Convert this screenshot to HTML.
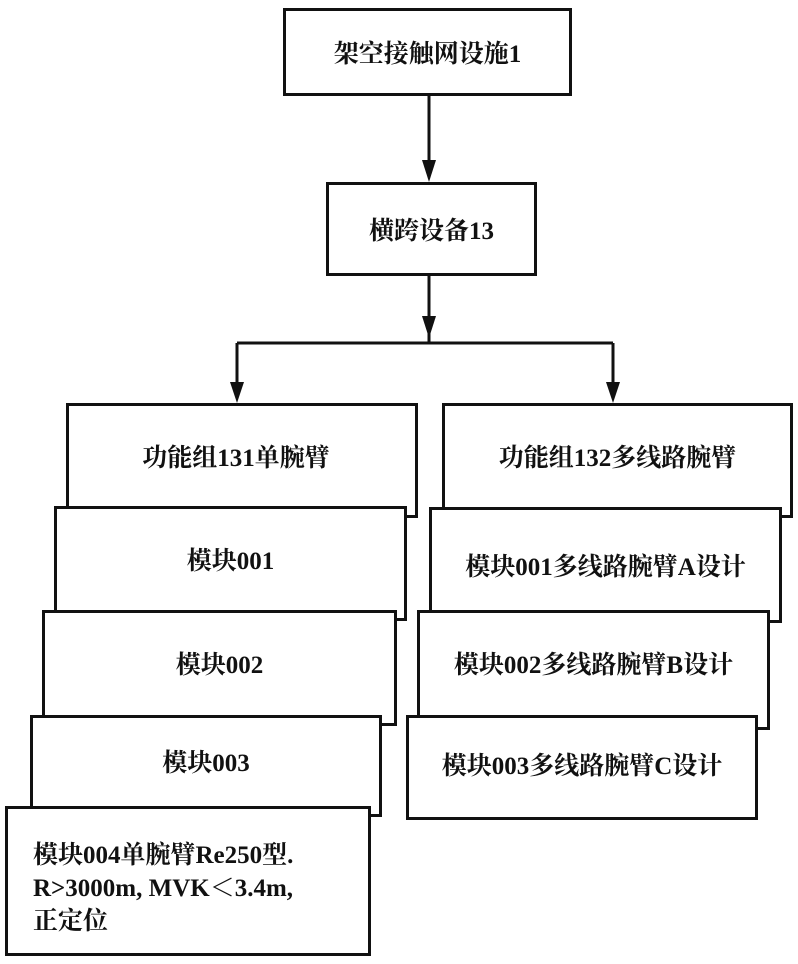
<!DOCTYPE html>
<html><head><meta charset="utf-8"><style>
body{margin:0;background:#fff;}
.c{position:relative;width:798px;height:964px;overflow:hidden;background:#fff;font-family:"Liberation Serif","Noto Serif CJK SC",serif;font-weight:bold;color:#111;}
.b{position:absolute;border:3px solid #111;background:#fff;box-sizing:border-box;display:flex;align-items:center;justify-content:center;font-size:25px;white-space:nowrap;}
</style></head><body><div class="c">
<svg width="798" height="964" style="position:absolute;left:0;top:0">
<g stroke="#111" stroke-width="3" fill="none">
<line x1="429" y1="95" x2="429" y2="170"/>
<line x1="429" y1="275" x2="429" y2="330"/>
<line x1="237" y1="343" x2="613" y2="343"/>
<line x1="429" y1="330" x2="429" y2="343"/>
<line x1="237" y1="343" x2="237" y2="390"/>
<line x1="613" y1="343" x2="613" y2="390"/>
</g>
<g fill="#111">
<polygon points="422,160 436,160 429,182"/>
<polygon points="422,316 436,316 429,338"/>
<polygon points="230,382 244,382 237,403"/>
<polygon points="606,382 620,382 613,403"/>
</g>
</svg>
<div class="b" style="left:283px;top:8px;width:289px;height:88px;">架空接触网设施1</div>
<div class="b" style="left:326px;top:182px;width:211px;height:94px;">横跨设备13</div>
<div class="b" style="left:66px;top:403px;width:352px;height:115px;padding-bottom:10px;padding-right:12px;">功能组131单腕臂</div>
<div class="b" style="left:54px;top:506px;width:353px;height:115px;padding-bottom:10px;">模块001</div>
<div class="b" style="left:42px;top:610px;width:355px;height:116px;padding-bottom:10px;">模块002</div>
<div class="b" style="left:30px;top:715px;width:352px;height:102px;padding-bottom:10px;">模块003</div>
<div class="b" style="left:5px;top:806px;width:366px;height:150px;justify-content:flex-start;align-items:flex-start;padding:30px 0 0 25px;line-height:33px;white-space:normal;">模块004单腕臂Re250型.<br>R&gt;3000m, MVK＜3.4m,<br>正定位</div>
<div class="b" style="left:442px;top:403px;width:351px;height:115px;padding-bottom:10px;">功能组132多线路腕臂</div>
<div class="b" style="left:429px;top:507px;width:353px;height:116px;">模块001多线路腕臂A设计</div>
<div class="b" style="left:417px;top:610px;width:353px;height:120px;padding-bottom:14px;">模块002多线路腕臂B设计</div>
<div class="b" style="left:406px;top:715px;width:352px;height:105px;padding-bottom:8px;">模块003多线路腕臂C设计</div>
</div></body></html>
